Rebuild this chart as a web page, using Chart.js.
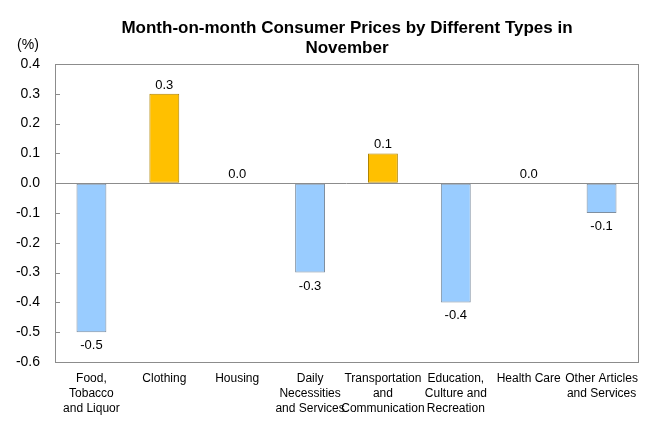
<!DOCTYPE html>
<html>
<head>
<meta charset="utf-8">
<script src="https://cdn.jsdelivr.net/npm/chart.js@4.4.1/dist/chart.umd.min.js"></script>
<style>
  body { margin: 0; background: #fff; }
  #wrap { width: 660px; height: 440px; }
</style>
</head>
<body>
<div id="wrap"><canvas id="chart" width="660" height="440"></canvas></div>
<script>
const categories = [
  ['Food,', 'Tobacco', 'and Liquor'],
  ['Clothing'],
  ['Housing'],
  ['Daily', 'Necessities', 'and Services'],
  ['Transportation', 'and', 'Communication'],
  ['Education,', 'Culture and', 'Recreation'],
  ['Health Care'],
  ['Other Articles', 'and Services']
];
const values = [-0.5, 0.3, 0.0, -0.3, 0.1, -0.4, 0.0, -0.1];
const titleLines = ['Month-on-month Consumer Prices by Different Types in', 'November'];
const unitLabel = '(%)';

const mainFont = '"Liberation Sans", Arial, sans-serif';

// box, title and value labels drawn by hand
const decorPlugin = {
  id: 'decor',
  afterDraw(chart) {
    const ctx = chart.ctx;
    const area = chart.chartArea;
    ctx.save();
    ctx.strokeStyle = '#8c8c8c';
    ctx.lineWidth = 1;
    ctx.strokeRect(area.left + 0.5, area.top + 0.5, area.right - area.left, area.bottom - area.top);

    // small tick marks inside the left axis
    const y = chart.scales.y;
    y.ticks.forEach(t => {
      const py = Math.round(y.getPixelForValue(t.value)) + 0.5;
      ctx.beginPath();
      ctx.moveTo(area.left, py);
      ctx.lineTo(area.left + 5, py);
      ctx.stroke();
    });

    ctx.fillStyle = '#000';
    ctx.font = 'bold 17px ' + mainFont;
    ctx.textAlign = 'center';
    ctx.textBaseline = 'middle';
    ctx.fillText(titleLines[0], 347, 28);
    ctx.fillText(titleLines[1], 347, 48);

    ctx.font = '14px ' + mainFont;
    ctx.fillText(unitLabel, 28, 45);

    ctx.font = '13px ' + mainFont;
    const meta = chart.getDatasetMeta(0);
    meta.data.forEach((bar, i) => {
      const v = values[i];
      const txt = v.toFixed(1);
      if (v < 0) {
        ctx.textBaseline = 'top';
        ctx.fillText(txt, bar.x, bar.y + 7);
      } else {
        ctx.textBaseline = 'bottom';
        ctx.fillText(txt, bar.x, bar.y - 2);
      }
    });
    ctx.restore();
  }
};

new Chart(document.getElementById('chart'), {
  type: 'bar',
  data: {
    labels: categories,
    datasets: [{
      data: values,
      backgroundColor: values.map(v => v > 0 ? '#FFC000' : '#99CCFF'),
      borderColor: values.map(v => v > 0 ? '#B08400' : '#7F8FA0'),
      borderWidth: 1,
      borderSkipped: false,
      barPercentage: 0.41,
      categoryPercentage: 1.0
    }]
  },
  options: {
    responsive: false,
    animation: false,
    layout: { padding: { top: 64, right: 22, left: 0, bottom: 0 } },
    plugins: {
      legend: { display: false },
      title: { display: false },
      tooltip: { enabled: false }
    },
    scales: {
      x: {
        grid: { display: false, drawTicks: false },
        border: { display: false },
        ticks: {
          color: '#000',
          font: { family: mainFont, size: 12, lineHeight: 1.25 },
          padding: 9,
          maxRotation: 0,
          autoSkip: false
        },
        afterFit(scale) { scale.height = 78; }
      },
      y: {
        min: -0.6,
        max: 0.4,
        grid: {
          drawTicks: false,
          color: ctx => ctx.tick && Math.abs(ctx.tick.value) < 1e-9 ? '#8c8c8c' : 'rgba(0,0,0,0)'
        },
        border: { display: false },
        ticks: {
          stepSize: 0.1,
          color: '#000',
          font: { family: mainFont, size: 14 },
          padding: 15,
          callback: v => Number(v).toFixed(1)
        },
        afterFit(scale) { scale.width = 55; }
      }
    }
  },
  plugins: [decorPlugin]
});
</script>
</body>
</html>
